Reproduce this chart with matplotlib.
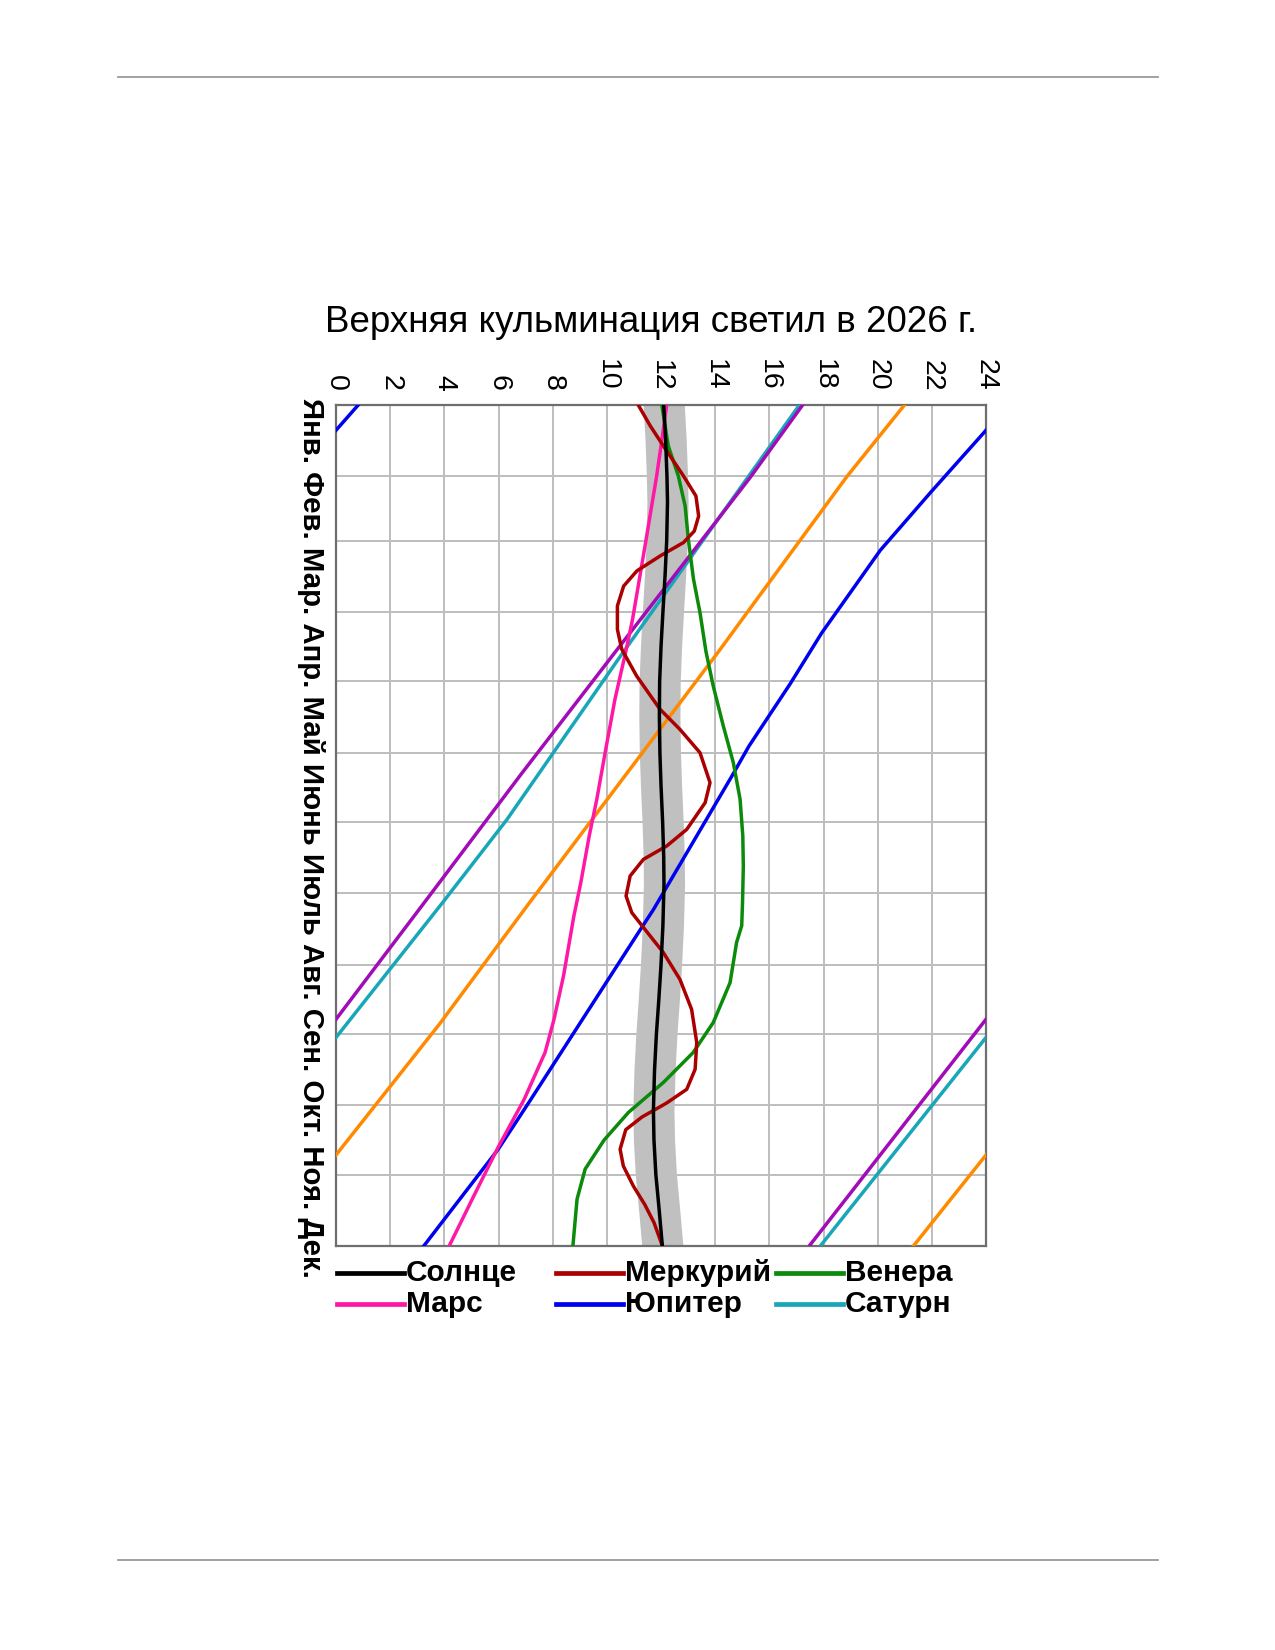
import numpy as np
import matplotlib
matplotlib.use("Agg")
import matplotlib.pyplot as plt
from matplotlib.lines import Line2D

plt.rcParams['font.family'] = ['Liberation Sans', 'DejaVu Sans']

# ---------------- data (day of year, culmination hour) ----------------
title = "Верхняя кульминация светил в 2026 г."
month_string = "Янв. Фев. Мар. Апр. Май Июнь Июль Авг. Сен. Окт. Ноя. Дек."
month_starts = [0, 31, 59, 90, 120, 151, 181, 212, 243, 273, 304, 334, 365]
hour_ticks = list(range(0, 25, 2))

sun_days = [0, 15, 31, 42, 59, 74, 90, 105, 120, 135, 151, 165, 181, 196, 208,
            226, 243, 258, 273, 289, 306, 319, 334, 349, 365]
sun_hours = [12.1, 12.17, 12.22, 12.24, 12.21, 12.15, 12.07, 12.0, 11.95, 11.94,
             11.96, 12.0, 12.06, 12.1, 12.11, 12.07, 12.0, 11.92, 11.83, 11.76,
             11.72, 11.74, 11.81, 11.93, 12.05]

mercury_days = [0, 9, 17.8, 30.8, 39.5, 48.2, 54.7, 59.7, 65.5, 72, 78.6, 87.2, 97.4,
                106, 117.6, 132, 140.8, 150.9, 163.9, 172.6, 184.2, 191.4, 197.2,
                204.4, 213.1, 220.3, 226, 237.7, 249.3, 262.3, 276.7, 288.3, 297,
                303, 309, 314.5, 323, 330.3, 339, 347, 354.8, 364.6]
mercury_hours = [11.16, 11.6, 12.09, 12.83, 13.29, 13.39, 13.23, 12.83, 11.97, 11.11,
                 10.62, 10.39, 10.39, 10.55, 11.1, 11.96, 12.7, 13.44, 13.81, 13.63,
                 12.95, 12.21, 11.35, 10.86, 10.71, 10.92, 11.3, 12.09, 12.7, 13.13,
                 13.32, 13.26, 12.95, 12.2, 11.3, 10.7, 10.49, 10.61, 10.98, 11.4,
                 11.74, 12.04]

venus_days = [0, 17.8, 30.8, 43.8, 58.3, 75.6, 90.1, 107, 122, 139.3, 155.2, 171.1,
              187, 200, 216, 226, 233.3, 250.7, 268, 281, 294, 307, 319, 331.6,
              344.7, 364.6]
venus_hours = [12.03, 12.27, 12.64, 12.89, 13.01, 13.2, 13.44, 13.66, 13.93, 14.3,
               14.67, 14.92, 15.02, 15.04, 15.01, 14.98, 14.79, 14.55, 13.93, 13.19,
               12.09, 10.8, 9.9, 9.2, 8.9, 8.75]

mars_days = [0, 17.8, 30.8, 61.2, 93, 107, 127.7, 149.4, 171.1, 187, 207.2, 222,
             247.8, 266.6, 281, 301.3, 322.3, 343, 364.5]
mars_hours = [12.21, 12.0, 11.84, 11.41, 10.95, 10.7, 10.3, 9.96, 9.63, 9.35, 9.04,
              8.78, 8.4, 8.05, 7.72, 6.95, 5.98, 5.1, 4.2]

jupiter_days = [0, 12.3, 37.6, 63, 99, 121, 148, 161, 219, 226, 302, 323, 365]
jupiter_hours = [24.82, 23.9, 21.98, 20.1, 17.93, 16.77, 15.25, 14.62, 11.72, 11.33,
                 7.16, 5.99, 3.24]

saturn_days = [0, 109.2, 180.1, 215.6, 274.5, 364.6]
saturn_hours = [17.11, 10.49, 6.3, 3.96, 0.0, -6.09]

neptune_days = [0, 31.5, 109.2, 160, 212.7, 266.6, 364.6]
neptune_hours = [17.23, 15.29, 10.18, 6.85, 3.47, 0.0, -6.5]

uranus_days = [0, 31.1, 88.3, 106.3, 217, 268.4, 325.5, 365]
uranus_hours = [20.99, 18.86, 15.29, 14.17, 7.08, 3.84, 0.0, -2.68]

# ---------------- figure ----------------
W, H = 1275, 1650
fig = plt.figure(figsize=(W / 100, H / 100), dpi=100)
fig.patch.set_facecolor('white')

def fx(px):
    return px / W

def fy(py):
    return 1 - py / H

# page rules
for yy in (77, 1560):
    fig.add_artist(Line2D([fx(118), fx(1158)], [fy(yy), fy(yy)], color='#9a9a9a', lw=1.3))

ax = fig.add_axes([fx(336), fy(1246), fx(986) - fx(336), (1246 - 405) / H])
ax.set_xlim(0, 24)
ax.set_ylim(365, 0)

ax.set_xticks(hour_ticks)
ax.set_xticklabels([str(h) for h in hour_ticks])
ax.xaxis.tick_top()
ax.tick_params(axis='x', top=True, bottom=False, labeltop=True, labelbottom=False,
               length=0, pad=10, labelsize=20.5, labelrotation=-90)
ax.set_yticks(month_starts)
ax.set_yticklabels([])
ax.tick_params(axis='y', length=0)
ax.grid(True, color='#bdbdbd', lw=1.4)
ax.set_axisbelow(True)
for s in ax.spines.values():
    s.set_color('#6e6e6e')
    s.set_linewidth(1.6)

sd = np.array(sun_days)
sh = np.array(sun_hours)
ax.fill_betweenx(sd, sh - 0.76, sh + 0.76, color='#c0c0c0', lw=0, zorder=2)

LW = 2.5

def wrapped(days, hours, color, lw=LW, z=3):
    d = np.array(days)
    h = np.array(hours)
    for off in (-24, 0, 24):
        ax.plot(h + off, d, color=color, lw=lw, zorder=z, solid_joinstyle='round')

colors = {
    'sun': '#000000', 'mercury': '#aa0000', 'venus': '#0b8a0b', 'mars': '#ff17a6',
    'jupiter': '#0000f0', 'saturn': '#17a7b8', 'neptune': '#a20cb8', 'uranus': '#ff8a00',
}

wrapped(uranus_days, uranus_hours, colors['uranus'])
wrapped(jupiter_days, jupiter_hours, colors['jupiter'])
wrapped(saturn_days, saturn_hours, colors['saturn'])
wrapped(neptune_days, neptune_hours, colors['neptune'])
ax.plot(venus_hours, venus_days, color=colors['venus'], lw=LW, zorder=4, solid_joinstyle='round')
ax.plot(mars_hours, mars_days, color=colors['mars'], lw=LW, zorder=4, solid_joinstyle='round')
ax.plot(mercury_hours, mercury_days, color=colors['mercury'], lw=LW, zorder=4, solid_joinstyle='round')
ax.plot(sun_hours, sun_days, color=colors['sun'], lw=LW, zorder=5, solid_joinstyle='round')

# title
fig.text(fx(651), fy(322), title, ha='center', va='center', fontsize=26.5)

# month labels (one rotated string)
mt = fig.text(fx(311), fy(398), month_string, rotation=-90, ha='center', va='top',
              fontsize=20, fontweight='bold')
fig.canvas.draw()
bb = mt.get_window_extent(fig.canvas.get_renderer())
mt.set_fontsize(20 * 879 / bb.height)

# legend (manual)
legend_entries = [
    ('Солнце', 'sun', 337, 1273), ('Меркурий', 'mercury', 556, 1273), ('Венера', 'venus', 776, 1273),
    ('Марс', 'mars', 337, 1304), ('Юпитер', 'jupiter', 556, 1304), ('Сатурн', 'saturn', 776, 1304),
]
for label, key, x0, yy in legend_entries:
    fig.add_artist(Line2D([fx(x0), fx(x0 + 67)], [fy(yy), fy(yy)], color=colors[key], lw=3.4))
    fig.text(fx(x0 + 69), fy(yy), label, ha='left', va='center', fontsize=21.5, fontweight='bold')

fig.savefig('out.png', dpi=100, facecolor='white')
